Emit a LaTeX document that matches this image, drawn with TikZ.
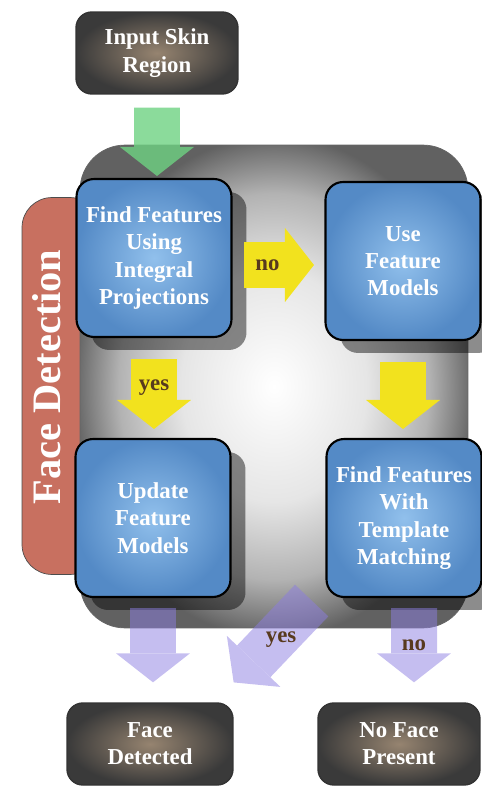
\documentclass[tikz,border=0pt]{standalone}
\usepackage{fontspec}
\setmainfont{Liberation Serif}
\usepackage{xcolor}
\usetikzlibrary{arrows.meta,positioning,calc,shadows}

\definecolor{tabred}{RGB}{200,112,96}
\definecolor{blueIn}{RGB}{145,192,236}
\definecolor{blueOut}{RGB}{84,138,198}
\definecolor{endIn}{RGB}{150,132,112}
\definecolor{endOut}{RGB}{58,58,58}
\definecolor{arrYellow}{RGB}{242,226,30}
\definecolor{arrGreen}{RGB}{110,210,130}
\definecolor{arrPurple}{RGB}{140,125,225}
\definecolor{labBrown}{RGB}{88,58,30}
\pgfdeclareradialshading{panelshade}{\pgfpoint{0bp}{0bp}}{color(0bp)=(white); color(12bp)=(black!10); color(20bp)=(black!30); color(26bp)=(black!62); color(50bp)=(black!62)}

\begin{document}
\begin{tikzpicture}[
  x=0.02cm, y=-0.02cm,
  txt/.style={text=white, align=center, font=\fontsize{13}{15.5}\selectfont\bfseries},
  stage/.style={txt, draw=black, line width=1.2pt, rounded corners=10pt, minimum width=3.1cm, minimum height=3.16cm, inner color=blueIn, outer color=blueOut, drop shadow={shadow xshift=0.3cm, shadow yshift=-0.26cm, opacity=0.45, fill=black}},
  ends/.style={txt, draw=black!80, line width=0.8pt, rounded corners=9pt, minimum width=#1, minimum height=1.64cm, inner color=endIn, outer color=endOut},
  ends/.default=3.24cm,
  panel/.style={draw=black!60, rounded corners=0.9cm, minimum width=7.76cm, minimum height=9.66cm, shading=panelshade},
  tab/.style={draw=black!70, fill=tabred, rounded corners=0.6cm, minimum width=1.56cm, minimum height=7.54cm},
  fat/.style={line width=0.92cm, -{Triangle[width=1.48cm, length=0.58cm, line width=0pt]}},
  lab/.style={text=labBrown, font=\fontsize{13}{15}\selectfont\bfseries},
]
\useasboundingbox (0,0) rectangle (482,787);

% side tab and the big panel
\node[tab] (tab) at (61,386) {};
\node[text=white, rotate=90, font=\fontsize{23}{26}\selectfont\bfseries] (title) at (47,377) {Face Detection};
\node[panel] (panel) at (274,386.5) {};

% stages
\node[ends] (in) at (157,53) {Input Skin\\Region};
\node[stage] (A) at (154,258) {Find Features\\Using\\Integral\\Projections};
\node[stage] (B) at (403,261) {Use\\Feature\\Models};
\node[stage] (C) at (153,518) {Update\\Feature\\Models};
\node[stage] (D) at (404,518) {Find Features\\With\\Template\\Matching};
\node[ends=3.32cm] (fd) at (150,744) {Face\\Detected};
\node[ends] (nf) at (399,744) {No Face\\Present};

% arrows
\begin{scope}[transparency group, opacity=0.8]
\draw[fat, color=arrGreen, shorten <=0.26cm, shorten >=0.04cm] (in.south) -- (in.south |- A.north);
\end{scope}
\draw[fat, color=arrYellow, shorten <=0.23cm, shorten >=0.21cm] ([yshift=-0.14cm]A.east) -- ([yshift=-0.14cm]A.east -| B.west) node[lab, pos=0.38] {no};
\draw[fat, color=arrYellow, shorten <=0.42cm, shorten >=0.18cm] (A.south) -- (A.south |- C.north) node[lab, pos=0.5] {yes};
\draw[fat, color=arrYellow, shorten <=0.42cm, shorten >=0.18cm] (B.south) -- (B.south |- D.north);
\begin{scope}[transparency group, opacity=0.5]
\draw[fat, color=arrPurple, shorten <=0.2cm, shorten >=0.4cm] (C.south) -- (C.south |- fd.north);
\draw[fat, color=arrPurple, shorten <=0.2cm, shorten >=0.4cm] ([xshift=0.2cm]D.south) -- ([xshift=0.2cm]D.south |- nf.north);
\draw[fat, color=arrPurple, shorten <=0.4cm, shorten >=0.55cm] ($(D.south west)+(0,-12)$) -- ($(fd.north east)+(-19,0)$);
\end{scope}
\node[lab] (yes2) at ($(D.south west)!0.4!($(fd.north east)+(-19,0)$)$) {yes};
\node[lab] (no2) at ($([xshift=0.2cm]D.south)!0.45!([xshift=0.2cm]D.south |- nf.north)$) {no};
\end{tikzpicture}
\end{document}
